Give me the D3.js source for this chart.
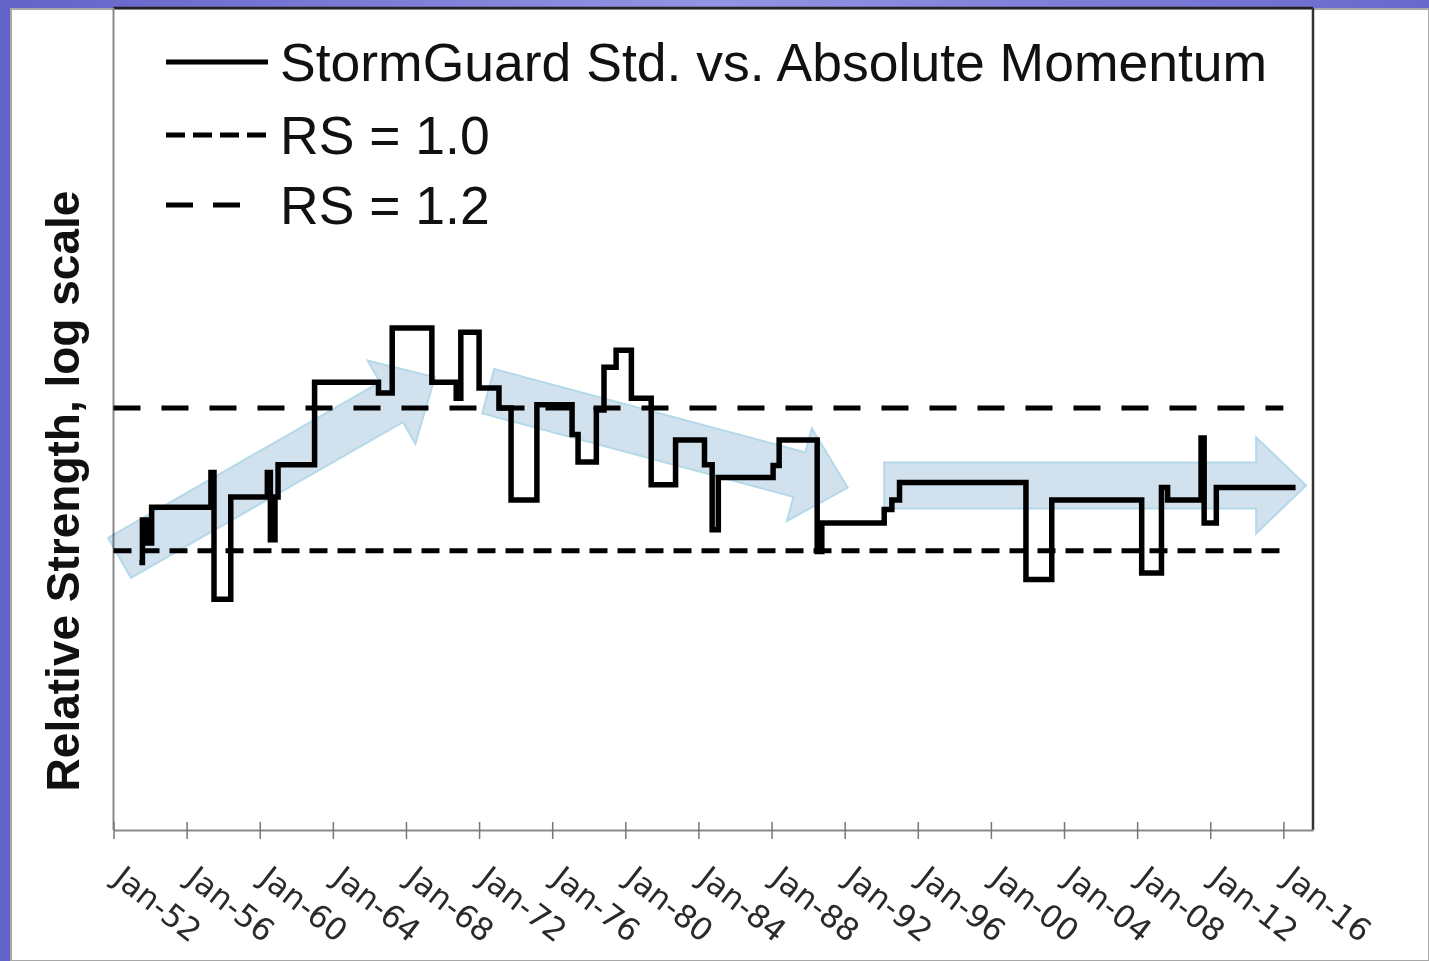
<!DOCTYPE html>
<html><head><meta charset="utf-8">
<script src="https://cdn.jsdelivr.net/npm/d3@7"></script>
<style>body{margin:0;background:#fff}svg{display:block}</style>
</head><body>
<svg id="c" width="1429" height="961"></svg>
<script>
// ---- data ----
const dates = ["1953-06","1953-08","1953-11","1954-02","1957-05","1957-07","1958-06","1960-06","1960-08","1960-11","1961-01",
  "1963-01","1966-07","1967-04","1969-06","1970-10","1971-01","1972-01","1973-02","1973-10","1975-03","1977-02","1977-06",
  "1978-06","1978-11","1979-07","1980-05","1981-06","1982-10","1984-05","1984-10","1985-02","1988-02","1988-06","1990-07",
  "1990-10","1994-03","1994-08","1995-01","2001-12","2003-05","2008-04","2009-05","2009-09","2011-07","2011-09","2012-05","2016-09"];
const rsValues = [0.985,1.040,1.010,1.057,1.105,0.940,1.071,1.105,1.014,1.071,1.116,
  1.240,1.223,1.329,1.240,1.215,1.322,1.231,1.200,1.067,1.205,1.160,1.120,
  1.197,1.264,1.292,1.215,1.088,1.152,1.116,1.027,1.098,1.115,1.152,0.999,
  1.036,1.054,1.067,1.091,0.964,1.067,0.972,1.084,1.067,1.155,1.036,1.084,1.084];
const refDates = ["1952-01","2016-01"];
const rsOne = [1.0, 1.0];
const rsOneTwo = [1.2, 1.2];
const tickDates = ["1952-01","1956-01","1960-01","1964-01","1968-01","1972-01","1976-01","1980-01","1984-01",
  "1988-01","1992-01","1996-01","2000-01","2004-01","2008-01","2012-01","2016-01"];
const tickLabels = ["Jan-52","Jan-56","Jan-60","Jan-64","Jan-68","Jan-72","Jan-76","Jan-80","Jan-84",
  "Jan-88","Jan-92","Jan-96","Jan-00","Jan-04","Jan-08","Jan-12","Jan-16"];
const legendLabels = ["StormGuard Std. vs. Absolute Momentum","RS = 1.0","RS = 1.2"];
const yLabel = "Relative Strength, log scale";
// trend arrows (annotation): from/to in data coordinates
const arrowFromDates = ["1952-05","1972-07","1994-03"];
const arrowFromRS = [0.991, 1.226, 1.087];
const arrowToDates = ["1969-08","1992-03","2017-04"];
const arrowToRS = [1.248, 1.084, 1.087];

// ---- drawing ----
const parse = d3.timeParse("%Y-%m");
const svg = d3.select("#c");
const W = 1429, H = 961;
const L = 113.5, R = 1313, T = 8, B = 830;

const defs = svg.append("defs");
const g = defs.append("linearGradient").attr("id","bg").attr("x1","0").attr("x2","1").attr("y1","0").attr("y2","0");
g.append("stop").attr("offset","0").attr("stop-color","#6262c8");
g.append("stop").attr("offset","0.5").attr("stop-color","#9494e4");
g.append("stop").attr("offset","1").attr("stop-color","#6868cc");
svg.append("rect").attr("width",W).attr("height",H).attr("fill","url(#bg)");
svg.append("rect").attr("x",11).attr("y",9).attr("width",W-11).attr("height",H-9)
  .attr("fill","#fff").attr("stroke","#a8a8a8").attr("stroke-width",2);

const x = d3.scaleTime().domain([new Date(1952,0,1), new Date(2017,7,15)]).range([L, R]);
const y = d3.scaleLog().domain([0.7, 2.0]).range([B, T]);

// plot frame
svg.append("line").attr("x1",L).attr("x2",R).attr("y1",T).attr("y2",T).attr("stroke","#222").attr("stroke-width",2.5);
svg.append("line").attr("x1",R).attr("x2",R).attr("y1",T).attr("y2",B).attr("stroke","#333").attr("stroke-width",2.5);
svg.append("line").attr("x1",L).attr("x2",L).attr("y1",T).attr("y2",B).attr("stroke","#8a8a8a").attr("stroke-width",2);

// x axis
const xAxis = svg.append("g").attr("transform",`translate(0,${B})`)
  .call(d3.axisBottom(x).tickValues(tickDates.map(parse)).tickSizeInner(9).tickSizeOuter(0).tickFormat(""));
xAxis.select(".domain").attr("stroke","#8a8a8a").attr("stroke-width",2);
xAxis.selectAll(".tick line").attr("y1",-8).attr("y2",9).attr("stroke","#777").attr("stroke-width",1.5);

svg.append("g").selectAll("text").data(tickDates).join("text")
  .attr("transform", d => `translate(${x(parse(d)) - 2},${B + 52}) rotate(38)`)
  .attr("font-family","DejaVu Sans, Verdana, sans-serif").attr("font-size",31.5).attr("fill","#2a2a2a")
  .text((d,i) => tickLabels[i]);

// y label
svg.append("text").attr("transform",`translate(79,${(190+792)/2}) rotate(-90)`)
  .attr("text-anchor","middle").attr("font-family","Liberation Sans, Arial, sans-serif")
  .attr("font-weight","bold").attr("font-size",46).attr("fill","#111").text(yLabel);

// reference lines
const line = d3.line().x(d => x(d[0])).y(d => y(d[1]));
svg.append("path").attr("d", line(refDates.map((d,i)=>[parse(d), rsOne[i]])))
  .attr("fill","none").attr("stroke","#000").attr("stroke-width",5).attr("stroke-dasharray","18,10");
svg.append("path").attr("d", line(refDates.map((d,i)=>[parse(d), rsOneTwo[i]])))
  .attr("fill","none").attr("stroke","#000").attr("stroke-width",5).attr("stroke-dasharray","27,21");

// main series
const stepLine = d3.line().x(d => x(d[0])).y(d => y(d[1])).curve(d3.curveStepAfter);
svg.append("path").attr("d", stepLine(dates.map((d,i)=>[parse(d), rsValues[i]])))
  .attr("fill","none").attr("stroke","#000").attr("stroke-width",5.5).attr("stroke-linejoin","miter");

// arrows
function arrowPath(p0, p1) {
  const dx = p1[0]-p0[0], dy = p1[1]-p0[1], len = Math.hypot(dx,dy);
  const ux = dx/len, uy = dy/len, nx = -uy, ny = ux;
  const w = 23, hw = 48, hl = 50;
  const bx = p1[0]-ux*hl, by = p1[1]-uy*hl;
  const pts = [[p0[0]+nx*w,p0[1]+ny*w],[bx+nx*w,by+ny*w],[bx+nx*hw,by+ny*hw],p1,
               [bx-nx*hw,by-ny*hw],[bx-nx*w,by-ny*w],[p0[0]-nx*w,p0[1]-ny*w]];
  return "M" + pts.map(p=>p.join(",")).join("L") + "Z";
}
svg.append("g").selectAll("path").data(arrowFromDates).join("path")
  .attr("d",(d,i)=>arrowPath([x(parse(d)), y(arrowFromRS[i])],[x(parse(arrowToDates[i])), y(arrowToRS[i])]))
  .attr("fill","#d2e1ee").attr("stroke","#b4d9e8").attr("stroke-width",2).style("mix-blend-mode","multiply");

// legend
const legY = [62, 135, 205];
const legDash = [null, "19,8", "27,20"];
const legX2 = [268, 268, 245];
const leg = svg.append("g");
legendLabels.forEach((t,i)=>{
  leg.append("line").attr("x1",166).attr("x2",legX2[i]).attr("y1",legY[i]).attr("y2",legY[i])
    .attr("stroke","#000").attr("stroke-width",5).attr("stroke-dasharray",legDash[i]);
  leg.append("text").attr("x",280).attr("y",legY[i]+19).attr("font-family","Liberation Sans, Arial, sans-serif")
    .attr("font-size",53.5).attr("fill","#111").text(t);
});
</script>
</body></html>
